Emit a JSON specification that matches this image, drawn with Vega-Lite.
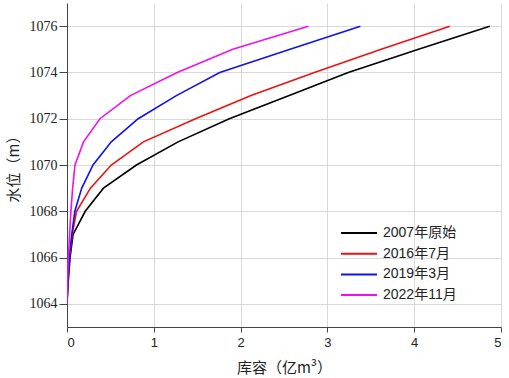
{
  "$schema": "https://vega.github.io/schema/vega-lite/v6.json",
  "width": 434,
  "height": 324,
  "autosize": {"type": "none"},
  "padding": {"left": 67, "top": 3, "right": 8, "bottom": 51},
  "background": "white",
  "config": {
    "view": {"stroke": null},
    "axis": {
      "domainColor": "#444444",
      "tickColor": "#444444",
      "gridColor": "#d9d9d9",
      "gridWidth": 1,
      "labelColor": "#222222",
      "titleColor": "#222222",
      "titleFontWeight": "normal"
    }
  },
  "data": {
    "values": [
      {"s": "2007年原始", "h": 1064, "v": 0},
      {"s": "2007年原始", "h": 1065, "v": 0.015},
      {"s": "2007年原始", "h": 1066, "v": 0.035},
      {"s": "2007年原始", "h": 1067, "v": 0.07},
      {"s": "2007年原始", "h": 1068, "v": 0.21},
      {"s": "2007年原始", "h": 1069, "v": 0.42},
      {"s": "2007年原始", "h": 1070, "v": 0.8},
      {"s": "2007年原始", "h": 1071, "v": 1.28},
      {"s": "2007年原始", "h": 1072, "v": 1.87},
      {"s": "2007年原始", "h": 1073, "v": 2.56},
      {"s": "2007年原始", "h": 1074, "v": 3.24},
      {"s": "2007年原始", "h": 1075, "v": 4.05},
      {"s": "2007年原始", "h": 1076, "v": 4.87},
      {"s": "2016年7月", "h": 1064, "v": 0},
      {"s": "2016年7月", "h": 1065, "v": 0.01},
      {"s": "2016年7月", "h": 1066, "v": 0.03},
      {"s": "2016年7月", "h": 1067, "v": 0.06},
      {"s": "2016年7月", "h": 1068, "v": 0.11},
      {"s": "2016年7月", "h": 1069, "v": 0.27},
      {"s": "2016年7月", "h": 1070, "v": 0.51},
      {"s": "2016年7月", "h": 1071, "v": 0.88},
      {"s": "2016年7月", "h": 1072, "v": 1.48},
      {"s": "2016年7月", "h": 1073, "v": 2.12},
      {"s": "2016年7月", "h": 1074, "v": 2.85},
      {"s": "2016年7月", "h": 1075, "v": 3.62},
      {"s": "2016年7月", "h": 1076, "v": 4.41},
      {"s": "2019年3月", "h": 1064, "v": 0},
      {"s": "2019年3月", "h": 1065, "v": 0.01},
      {"s": "2019年3月", "h": 1066, "v": 0.027},
      {"s": "2019年3月", "h": 1067, "v": 0.055},
      {"s": "2019年3月", "h": 1068, "v": 0.09},
      {"s": "2019年3月", "h": 1069, "v": 0.17},
      {"s": "2019年3月", "h": 1070, "v": 0.3},
      {"s": "2019年3月", "h": 1071, "v": 0.51},
      {"s": "2019年3月", "h": 1072, "v": 0.82},
      {"s": "2019年3月", "h": 1073, "v": 1.26},
      {"s": "2019年3月", "h": 1074, "v": 1.76},
      {"s": "2019年3月", "h": 1075, "v": 2.57},
      {"s": "2019年3月", "h": 1076, "v": 3.38},
      {"s": "2022年11月", "h": 1064, "v": 0},
      {"s": "2022年11月", "h": 1065, "v": 0.005},
      {"s": "2022年11月", "h": 1066, "v": 0.015},
      {"s": "2022年11月", "h": 1067, "v": 0.03},
      {"s": "2022年11月", "h": 1068, "v": 0.045},
      {"s": "2022年11月", "h": 1069, "v": 0.065},
      {"s": "2022年11月", "h": 1070, "v": 0.092},
      {"s": "2022年11月", "h": 1071, "v": 0.19},
      {"s": "2022年11月", "h": 1072, "v": 0.38},
      {"s": "2022年11月", "h": 1073, "v": 0.73},
      {"s": "2022年11月", "h": 1074, "v": 1.27},
      {"s": "2022年11月", "h": 1075, "v": 1.91},
      {"s": "2022年11月", "h": 1076, "v": 2.78}
    ]
  },
  "mark": {"type": "line", "strokeWidth": 1.6, "clip": true},
  "encoding": {
    "x": {
      "field": "v",
      "type": "quantitative",
      "scale": {"domain": [0, 5], "nice": false, "zero": false},
      "axis": {
        "title": "库容（亿m³）",
        "values": [0, 1, 2, 3, 4, 5],
        "format": "d",
        "tickSize": 5,
        "labelFont": "Liberation Sans",
        "labelFontSize": 13,
        "labelPadding": 4,
        "titleFont": "Noto Sans CJK SC",
        "titleFontSize": 15,
        "titlePadding": 11
      }
    },
    "y": {
      "field": "h",
      "type": "quantitative",
      "scale": {"domain": [1063, 1077], "nice": false, "zero": false},
      "axis": {
        "title": "水位（m）",
        "values": [1064, 1066, 1068, 1070, 1072, 1074, 1076],
        "format": "d",
        "tickSize": 8,
        "labelFont": "Liberation Serif",
        "labelFontSize": 14,
        "labelPadding": 2,
        "titleFont": "Noto Sans CJK SC",
        "titleFontSize": 15,
        "titlePadding": 8
      }
    },
    "color": {
      "field": "s",
      "type": "nominal",
      "scale": {
        "domain": ["2007年原始", "2016年7月", "2019年3月", "2022年11月"],
        "range": ["#000000", "#ee1111", "#1111ee", "#ee11ee"]
      },
      "legend": {
        "title": null,
        "orient": "none",
        "legendX": 282,
        "legendY": 220,
        "symbolType": "M-2,0L2,0",
        "symbolSize": 324,
        "symbolStrokeWidth": 2,
        "labelFont": "Liberation Sans, Noto Sans CJK SC",
        "labelFontSize": 14,
        "labelColor": "#222222",
        "labelOffset": 14,
        "rowPadding": 3.7
      }
    },
    "order": {"field": "h", "type": "quantitative"}
  }
}
